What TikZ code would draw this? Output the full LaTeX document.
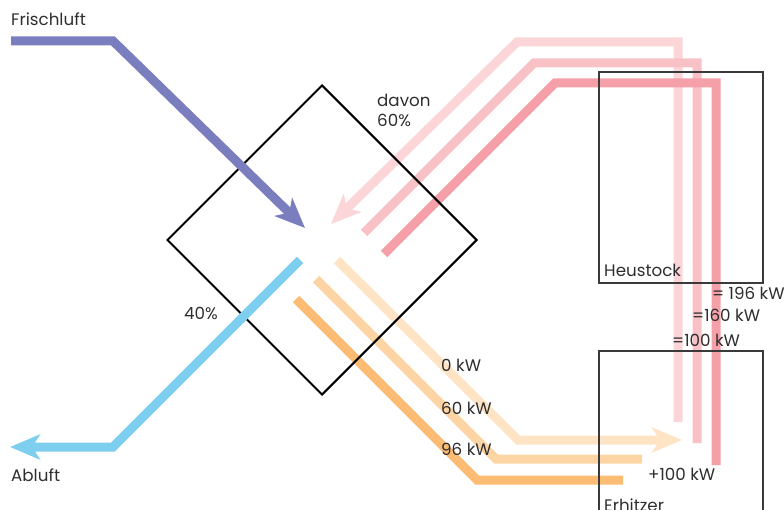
\documentclass[tikz,border=0pt]{standalone}
\usepackage{fontspec}
\setmainfont{Poppins}
\usepackage{xcolor}
\usetikzlibrary{arrows.meta,shapes.geometric}

\definecolor{frischblau}{HTML}{7A7EBE}
\definecolor{abblau}{HTML}{7ECEF0}
\definecolor{rosaA}{HTML}{FBD5D7}
\definecolor{rosaB}{HTML}{F8C1C6}
\definecolor{rosaC}{HTML}{F59FA9}
\definecolor{orangeA}{HTML}{FEE4C5}
\definecolor{orangeB}{HTML}{FDD4A4}
\definecolor{orangeC}{HTML}{FCBC74}
\definecolor{textgrau}{HTML}{2E2E2E}
\definecolor{kastengrau}{HTML}{3A3A3A}

\tikzset{
  strom/.style={line width=9pt},
  kopf/.style={-{Stealth[length=30pt,width=25pt,inset=8pt]}},
  lbl/.style={anchor=base west, inner sep=0pt, text=textgrau, font=\fontsize{16.7}{19}\selectfont},
  kasten/.style={draw=kastengrau, line width=1.3pt, inner sep=0pt, rectangle}
}

\begin{document}
\begin{tikzpicture}[x=1pt,y=-1pt]
        \clip (0,0) rectangle (784,510);
        \coordinate (f0) at (11,41);
        \coordinate (f1) at (113,41);
        \coordinate (f2) at (305,228);
        \coordinate (a0) at (300,260);
        \coordinate (a1) at (113,447);
        \coordinate (a2) at (10,447);
        \coordinate (pa0) at (678,422);
        \coordinate (pa1) at (678,42);
        \coordinate (pa2) at (517,42);
        \coordinate (pa3) at (331,224);
        \coordinate (pb0) at (697,443);
        \coordinate (pb1) at (697,63);
        \coordinate (pb2) at (534,63);
        \coordinate (pb3) at (364,233);
        \coordinate (pc0) at (716,465);
        \coordinate (pc1) at (716,83);
        \coordinate (pc2) at (555,83);
        \coordinate (pc3) at (384,254);
        \coordinate (oa0) at (337,260);
        \coordinate (oa1) at (518,440);
        \coordinate (oa2) at (682,440);
        \coordinate (ob0) at (316,279);
        \coordinate (ob1) at (496,459);
        \coordinate (ob2) at (642,459);
        \coordinate (oc0) at (296,299);
        \coordinate (oc1) at (477,480);
        \coordinate (oc2) at (623,480);
        \draw [strom, rosaA, kopf] (pa0) -- (pa1) -- (pa2) -- (pa3);
        \draw [strom, rosaB] (pb0) -- (pb1) -- (pb2) -- (pb3);
        \draw [strom, rosaC] (pc0) -- (pc1) -- (pc2) -- (pc3);
        \draw [strom, orangeA, kopf] (oa0) -- (oa1) -- (oa2);
        \draw [strom, orangeB] (ob0) -- (ob1) -- (ob2);
        \draw [strom, orangeC] (oc0) -- (oc1) -- (oc2);
        \node [kasten, minimum width=164pt, minimum height=211pt] (heustock) at (681,177.5) {};
        \node [kasten, minimum width=164pt, minimum height=209pt] (erhitzer) at (681,455.5) {};
        \node [draw, diamond, line width=2pt, minimum width=310pt, minimum height=310pt, inner sep=0pt] (wt) at (322,240) {};
        \draw [strom, frischblau, kopf] (f0) -- (f1) -- (f2);
        \draw [strom, abblau, kopf] (a0) -- (a1) -- (a2);
        \node [lbl] (frisch) at (11,26) {Frischluft};
        \node [lbl] (abluft) at (11,481) {Abluft};
        \node [lbl] (davon) at (377,106.5) {davon};
        \node [lbl] (sechzig) at (377,126.5) {60\%};
        \node [lbl] (vierzig) at (184,320) {40\%};
        \node [lbl] (heu) at (604,277) {Heustock};
        \node [lbl] (erh) at (604,511) {Erhitzer};
        \node [lbl] (kw196) at (712,300) {= 196 kW};
        \node [lbl] (kw160) at (692,322) {=160 kW};
        \node [lbl] (kw100) at (672,346.5) {=100 kW};
        \node [lbl] (kw0) at (441,371.6) {0 kW};
        \node [lbl] (kw60) at (441,414) {60 kW};
        \node [lbl] (kw96) at (441,455.6) {96 kW};
        \node [lbl] (plus100) at (648,480.7) {+100 kW};
\end{tikzpicture}
\end{document}
